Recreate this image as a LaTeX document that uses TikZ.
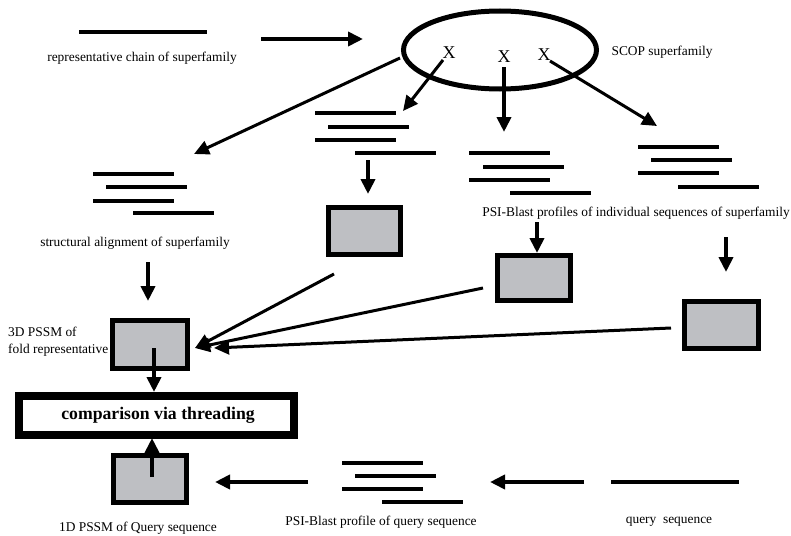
\documentclass[tikz,border=0pt]{standalone}
\usepackage{fontspec}
\setmainfont{Liberation Serif}
\usetikzlibrary{arrows.meta,shapes.geometric}
\definecolor{boxgray}{RGB}{190,191,195}
\begin{document}
\begin{tikzpicture}[x=1pt,y=-1pt,
  seqline/.style={line width=3.8pt},
  arr/.style={line width=3pt,-{Triangle[length=15pt,width=14pt]}},
  pssm/.style={draw,line width=5pt,fill=boxgray,minimum width=#1,minimum height=47pt,inner sep=0pt},
  lbl/.style={font=\fontsize{13.4}{16}\selectfont,inner sep=0pt},
  xmark/.style={font=\fontsize{18}{18}\selectfont,inner sep=0pt}]
\useasboundingbox (0,0) rectangle (791,535);

% representative chain
\draw[seqline] (79,32) -- (207,32);
\node[lbl] (replbl) at (142,58) {representative chain of superfamily};
\coordinate (repA) at (261,39);
\coordinate (repB) at (363,39);
\draw[arr,line width=3.8pt] (repA) -- (repB);

% SCOP superfamily ellipse
\node[ellipse,draw,line width=5pt,minimum width=193pt,minimum height=78pt,inner sep=0pt] (scop) at (500,50) {};
\node[xmark] (xa) at (449,53) {X};
\node[xmark] (xb) at (504,57) {X};
\node[xmark] (xc) at (544,55) {X};
\node[lbl] (scoplbl) at (662,52) {SCOP superfamily};

% structural alignment stack
\draw[seqline] (93,174) -- (174,174);
\draw[seqline] (106,187) -- (187,187);
\draw[seqline] (93,201) -- (174,201);
\draw[seqline] (133,213) -- (214,213);
\node[lbl] (strlbl) at (135,243) {structural alignment of superfamily};

% sequence profile stacks
\draw[seqline] (315,113) -- (396,113);
\draw[seqline] (328,127) -- (409,127);
\draw[seqline] (315,140) -- (396,140);
\draw[seqline] (355,153) -- (436,153);

\draw[seqline] (469,153) -- (550,153);
\draw[seqline] (483,167) -- (564,167);
\draw[seqline] (469,180) -- (550,180);
\draw[seqline] (510,193) -- (591,193);

\draw[seqline] (638,147) -- (719,147);
\draw[seqline] (651,160) -- (732,160);
\draw[seqline] (638,173) -- (719,173);
\draw[seqline] (678,187) -- (759,187);
\node[lbl] (psilbl) at (636,213) {PSI-Blast profiles of individual sequences of superfamily};

% PSSM boxes
\node[pssm=72pt] (bA) at (364.5,231) {};
\node[pssm=73pt,minimum height=45pt] (bB) at (534,277.5) {};
\node[pssm=74pt] (bC) at (721.5,325) {};
\node[pssm=75pt,minimum height=48pt] (b3d) at (150,344.5) {};
\node[pssm=73pt] (b1d) at (150,479) {};
\node[draw,line width=8pt,minimum width=275pt,minimum height=39pt,inner sep=0pt] (thread) at (156.5,415.5) {};
\node[font=\fontsize{17.7}{20}\selectfont\bfseries,inner sep=0pt] (threadlbl) at (158,415) {comparison via threading};
\node[lbl,align=left,anchor=west] (lbl3d) at (8,342) {3D PSSM of\\[1pt]fold representative};
\node[lbl] (lbl1d) at (138,528) {1D PSSM of Query sequence};

% query side
\draw[seqline] (611,482) -- (739,482);
\node[lbl] (qlbl) at (669,522) {query\ \ sequence};
\draw[seqline] (342,463) -- (423,463);
\draw[seqline] (355,476) -- (436,476);
\draw[seqline] (342,489) -- (423,489);
\draw[seqline] (382,502) -- (463,502);
\node[lbl] (qpsilbl) at (381,522) {PSI-Blast profile of query sequence};

% connector end points
\coordinate (scopW) at (400,58);
\coordinate (strTip) at (194,154);
\coordinate (xaS) at (443,60);
\coordinate (xaT) at (403,111);
\coordinate (xbS) at (504,67);
\coordinate (xbT) at (504,132);
\coordinate (xcS) at (550,61);
\coordinate (xcT) at (657,126);
\coordinate (stAS) at (368,160);
\coordinate (stAT) at (368,194);
\coordinate (psiS) at (537,222);
\coordinate (psiT) at (537,253);
\coordinate (stCS) at (726,237);
\coordinate (stCT) at (726,272);
\coordinate (strS) at (148,262);
\coordinate (strT) at (148,301);
\coordinate (bAS) at (334,274);
\coordinate (bBS) at (483,288);
\coordinate (bCS) at (671,328);
\coordinate (tip3d) at (195,348);
\coordinate (tip3dB) at (214,348);
\coordinate (b3dS) at (154,348);
\coordinate (b3dT) at (154,392);
\coordinate (b1dS) at (152,477);
\coordinate (b1dT) at (152,438);
\coordinate (qpS) at (308,482);
\coordinate (qpT) at (215,482);
\coordinate (qS) at (584,482);
\coordinate (qT) at (490,482);

% connectors
\draw[arr] (scopW) -- (strTip);
\draw[arr] (xaS) -- (xaT);
\draw[arr,line width=3.8pt] (xbS) -- (xbT);
\draw[arr] (xcS) -- (xcT);
\draw[arr,line width=3.8pt] (stAS) -- (stAT);
\draw[arr,line width=3.8pt] (psiS) -- (psiT);
\draw[arr,line width=3.8pt] (stCS) -- (stCT);
\draw[arr,line width=3.8pt] (strS) -- (strT);
\draw[arr] (bAS) -- (tip3d);
\draw[arr] (bBS) -- (tip3d);
\draw[arr] (bCS) -- (tip3dB);
\draw[arr,line width=3.8pt] (b3dS) -- (b3dT);
\draw[arr,line width=3.8pt] (b1dS) -- (b1dT);
\draw[arr,line width=3.8pt] (qpS) -- (qpT);
\draw[arr,line width=3.8pt] (qS) -- (qT);
\end{tikzpicture}
\end{document}
